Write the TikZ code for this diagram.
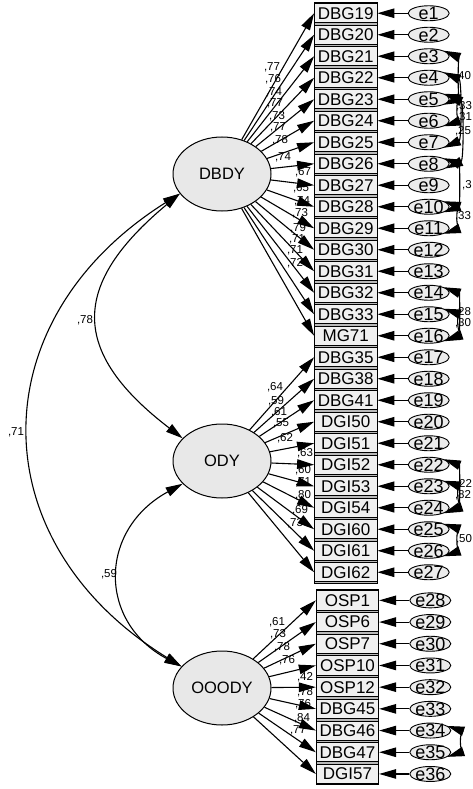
\documentclass[tikz,border=0pt]{standalone}
\usepackage{fontspec}
\setmainfont{Liberation Sans}
\usetikzlibrary{arrows.meta,shapes.geometric}
\newcommand{\zc}[1]{\smash{\raisebox{-.5\height}{\makebox[0pt]{#1}}}}
\begin{document}
\begin{tikzpicture}[x=1pt,y=-1pt,
  >={Triangle[length=17pt,width=9.5pt]},
  boxn/.style={rectangle,draw=black,line width=0.8pt,fill=gray!12,minimum width=62.5pt,minimum height=19pt,inner sep=0pt,font=\fontsize{17}{18}\selectfont},
  errn/.style={ellipse,draw=black,line width=0.9pt,fill=gray!15,minimum width=41pt,minimum height=15pt,inner sep=0pt,font=\fontsize{18}{18}\selectfont},
  latn/.style={ellipse,draw=black,line width=1pt,fill=gray!18,minimum width=98pt,minimum height=74pt,inner sep=0pt,font=\fontsize{16.5}{18}\selectfont},
  ldarr/.style={->,line width=1.1pt},
  cov/.style={<->,line width=1.1pt},
  lab/.style={font=\fontsize{11.5}{12}\selectfont,inner sep=0pt},
  col/.style={draw=black,line width=0.9pt,fill=gray!55}]
\useasboundingbox (0,0) rectangle (473,789);
\fill[white] (0,0) rectangle (473,789);
% columns of indicator boxes
\draw[col] (314.5,2.5) rectangle (377,583);
\draw[col] (316.5,589.5) rectangle (378.5,784.8);
\foreach \t [count=\i] in {DBG19,DBG20,DBG21,DBG22,DBG23,DBG24,DBG25,DBG26,DBG27,DBG28,DBG29,DBG30,DBG31,DBG32,DBG33,MG71,DBG35,DBG38,DBG41,DGI50,DGI51,DGI52,DGI53,DGI54,DGI60,DGI61,DGI62}
  \node[boxn] (a\i) at (345.75,{13.25+21.5*(\i-1)}) {\t};
\foreach \t [count=\j] in {OSP1,OSP6,OSP7,OSP10,OSP12,DBG45,DBG46,DBG47,DGI57}
  \node[boxn,minimum height=19.2pt] (b\j) at (347.5,{600.35+21.7*(\j-1)}) {\t};
% error terms
\foreach \i in {1,...,27}
  \node[errn] (e\i) at (428.7,{13.25+21.5*(\i-1)}) {\zc{e\i}};
\foreach \j in {1,...,9}{
  \pgfmathtruncatemacro\k{27+\j}
  \node[errn] (e\k) at (430.3,{600.35+21.7*(\j-1)}) {\zc{e\k}};}
\foreach \i in {1,...,27}
  \draw[ldarr] (e\i) -- (a\i.east);
\foreach \j in {1,...,9}{
  \pgfmathtruncatemacro\k{27+\j}
  \draw[ldarr] (e\k) -- (b\j.east);}
% latent variables
\node[latn] (DBDY) at (222,174) {DBDY};
\node[latn] (ODY) at (222,461) {ODY};
\node[latn] (OOODY) at (222,688) {OOODY};
% loading labels
\foreach \v/\x/\y [count=\n] in {77/272/67,76/273/79,74/274/92,77/275/103,73/277/116,77/278/127,78/280/140,74/283/157,67/303/172,65/301/188,74/302/201,73/300/213,79/298/228,71/297/239,71/295/250,72/295/263}
  \node[lab] (la\n) at (\x,\y) {,\v};
\foreach \v/\x/\y [count=\n] in {64/275/387,59/276/401,61/279/412,55/281/423,62/285/438,63/305/453,60/303/470,71/303/482,80/303/495,69/300/510,73/295/523}
  \node[lab] (lb\n) at (\x,\y) {,\v};
\foreach \v/\x/\y [count=\n] in {61/277/622,73/278/634,78/282/647,76/287/660,42/305/677,78/305/692,76/303/704,84/302/718,77/298/730}
  \node[lab] (lc\n) at (\x,\y) {,\v};
% loadings
\foreach \i in {1,...,16}
  \draw[ldarr] (DBDY) -- (a\i.west);
\foreach \i in {17,...,27}
  \draw[ldarr] (ODY) -- (a\i.west);
\foreach \j in {1,...,9}
  \draw[ldarr] (OOODY) -- (b\j.west);
% factor covariances
\draw[cov] (DBDY.205) .. controls (-21,320) and (-21,542) .. (OOODY.152);
\draw[cov] (DBDY.205) .. controls (70,285) and (70,352) .. (ODY.150);
\draw[cov] (ODY.210) .. controls (98,530) and (98,622) .. (OOODY.152);
\node[lab] (c71) at (16,432) {,71};
\node[lab] (c78) at (85,320) {,78};
\node[lab] (c59) at (109,574) {,59};
% error covariances
\draw[cov] (e3.20) .. controls +(14,6) and +(14,-6) .. (e5.-20);
\draw[cov] (e4.20) .. controls +(18,8) and +(18,-8) .. (e7.-20);
\draw[cov] (e5.20) .. controls +(12,4) and +(12,-4) .. (e6.-20);
\draw[cov] (e5.15) .. controls +(18,8) and +(18,-8) .. (e8.-15);
\draw[cov] (e8.20) .. controls +(16,6) and +(16,-6) .. (e10.-20);
\draw[cov] (e10.20) .. controls +(12,4) and +(12,-4) .. (e11.-20);
\draw[cov] (e14.20) .. controls +(16,6) and +(16,-6) .. (e16.-20);
\draw[cov] (e15.20) .. controls +(12,4) and +(12,-4) .. (e16.-15);
\draw[cov] (e22.20) .. controls +(16,6) and +(16,-6) .. (e24.-20);
\draw[cov] (e23.20) .. controls +(12,4) and +(12,-4) .. (e24.-15);
\draw[cov] (e25.20) .. controls +(12,4) and +(12,-4) .. (e26.-20);
\draw[cov] (e34.15) .. controls +(12,4) and +(12,-4) .. (e35.-15);
\foreach \v/\x/\y [count=\n] in {40/463/76,33/464/106,31/464/117,25/463/131,3/467/185,33/463/216,28/463/312,30/463/323,22/464/484,82/463/495,50/464/539}
  \node[lab] (le\n) at (\x,\y) {,\v};
\end{tikzpicture}
\end{document}
